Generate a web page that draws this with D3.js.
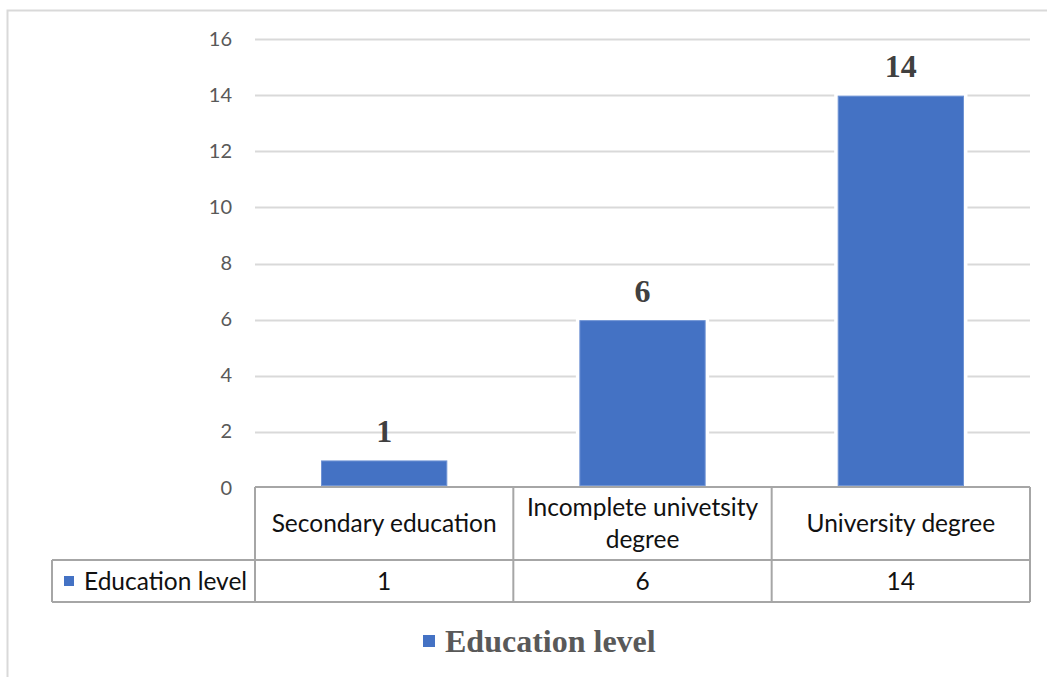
<!DOCTYPE html>
<html>
<head>
<meta charset="utf-8">
<script src="https://cdn.jsdelivr.net/npm/d3@7"></script>
<style>
  html, body { margin: 0; padding: 0; background: #fff; }
  svg { display: block; }
</style>
</head>
<body>
<svg id="chart" width="1047" height="677"></svg>
<script>
// Chart data
const categories = ["Secondary education", "Incomplete univetsity degree", "University degree"];
const categoryLines = [["Secondary education"], ["Incomplete univetsity", "degree"], ["University degree"]];
const seriesName = "Education level";
const values = [1, 6, 14];
const yTicks = [0, 2, 4, 6, 8, 10, 12, 14, 16];

const W = 1047, H = 677;
const svg = d3.select("#chart");
const sansFont = "Lato, 'Open Sans', sans-serif";
const serifFont = "'Liberation Serif', 'Times New Roman', serif";
const barColor = "#4472c4";

// Outer frame (top and left edges visible)
svg.append("path")
  .attr("d", `M7.5,${H} V10.5 H${W}`)
  .attr("fill", "none")
  .attr("stroke", "#d9d9d9")
  .attr("stroke-width", 2);

const plot = { left: 255, right: 1030, top: 40, bottom: 489, axisLine: 487 };

const x = d3.scaleBand()
  .domain(categories)
  .range([plot.left, plot.right])
  .paddingInner(0)
  .paddingOuter(0);

const y = d3.scaleLinear()
  .domain([0, 16])
  .range([plot.bottom, plot.top]);

// Gridlines
svg.append("g")
  .selectAll("line")
  .data(yTicks.filter(t => t > 0))
  .join("line")
  .attr("x1", plot.left)
  .attr("x2", plot.right)
  .attr("y1", d => Math.round(y(d)) - 0.5)
  .attr("y2", d => Math.round(y(d)) - 0.5)
  .attr("stroke", "#d9d9d9")
  .attr("stroke-width", 2);

// Y axis labels
const yAxis = d3.axisLeft(y).tickValues(yTicks).tickSize(0).tickPadding(0);
const yg = svg.append("g")
  .attr("transform", `translate(232,-2)`)
  .call(yAxis);
yg.select(".domain").remove();
yg.selectAll("text")
  .attr("font-family", sansFont)
  .attr("font-size", 20)
  .attr("fill", "#595959")
  .attr("dy", "0.35em");

// Bars
const barW = x.bandwidth() * 0.485;
const barX = d => x.bandwidth() / 2 - barW / 2;
const bars = svg.append("g")
  .selectAll("g")
  .data(values.map((v, i) => ({ cat: categories[i], v })))
  .join("g")
  .attr("transform", d => `translate(${x(d.cat)},0)`);

bars.append("rect")
  .attr("x", d => barX(d) - 4)
  .attr("width", barW + 8)
  .attr("y", d => y(d.v) - 4)
  .attr("height", d => plot.axisLine - y(d.v) + 3)
  .attr("fill", "#fff");

bars.append("rect")
  .attr("x", barX)
  .attr("width", barW)
  .attr("y", d => y(d.v))
  .attr("height", d => plot.axisLine - y(d.v) - 1.5)
  .attr("fill", barColor)
  .attr("stroke", "#6f93d4")
  .attr("stroke-width", 1);

// Value labels
bars.append("text")
  .attr("x", x.bandwidth() / 2)
  .attr("y", d => y(d.v) - 19)
  .attr("text-anchor", "middle")
  .attr("font-family", serifFont)
  .attr("font-weight", "bold")
  .attr("font-size", 32)
  .attr("fill", "#404040")
  .text(d => d.v);

// Data table
const table = { headTop: plot.axisLine, rowTop: 560, bottom: 602, keyLeft: 52 };
const tableLines = svg.append("g")
  .attr("stroke", "#a6a6a6")
  .attr("stroke-width", 2)
  .attr("fill", "none");

tableLines.append("line")
  .attr("x1", plot.left).attr("x2", plot.right)
  .attr("y1", table.headTop).attr("y2", table.headTop);
tableLines.append("line")
  .attr("x1", table.keyLeft).attr("x2", plot.right)
  .attr("y1", table.rowTop).attr("y2", table.rowTop);
tableLines.append("line")
  .attr("x1", table.keyLeft).attr("x2", plot.right)
  .attr("y1", table.bottom).attr("y2", table.bottom);
tableLines.append("line")
  .attr("x1", table.keyLeft).attr("x2", table.keyLeft)
  .attr("y1", table.rowTop).attr("y2", table.bottom);
tableLines.selectAll(".vline")
  .data([...categories.map(c => x(c)), plot.right])
  .join("line")
  .attr("class", "vline")
  .attr("x1", d => d).attr("x2", d => d)
  .attr("y1", table.headTop).attr("y2", table.bottom);

// Category header cells
const headMid = (table.headTop + table.rowTop) / 2;
const lineH = 32;
categories.forEach((c, i) => {
  const lines = categoryLines[i];
  const t = svg.append("text")
    .attr("text-anchor", "middle")
    .attr("font-family", sansFont)
    .attr("font-size", 24.5)
    .attr("fill", "#111");
  lines.forEach((ln, j) => {
    t.append("tspan")
      .attr("x", x(c) + x.bandwidth() / 2)
      .attr("y", headMid + (j - (lines.length - 1) / 2) * lineH)
      .attr("dy", "0.35em")
      .text(ln);
  });
});

// Value row cells
const rowMid = (table.rowTop + table.bottom) / 2;
svg.append("g")
  .selectAll("text")
  .data(values)
  .join("text")
  .attr("x", (d, i) => x(categories[i]) + x.bandwidth() / 2)
  .attr("y", rowMid)
  .attr("dy", "0.35em")
  .attr("text-anchor", "middle")
  .attr("font-family", sansFont)
  .attr("font-size", 24.5)
  .attr("fill", "#111")
  .text(d => d);

// Row key
svg.append("rect")
  .attr("x", 64).attr("y", rowMid - 5)
  .attr("width", 10).attr("height", 10)
  .attr("fill", barColor);
svg.append("text")
  .attr("x", 84).attr("y", rowMid)
  .attr("dy", "0.35em")
  .attr("font-family", sansFont)
  .attr("font-size", 24.5)
  .attr("fill", "#111")
  .text(seriesName);

// Legend
const legend = svg.append("g").attr("transform", "translate(423,641)");
legend.append("rect")
  .attr("x", 0).attr("y", -6)
  .attr("width", 12).attr("height", 12)
  .attr("fill", barColor);
legend.append("text")
  .attr("x", 22).attr("y", 11)
  .attr("font-family", serifFont)
  .attr("font-weight", "bold")
  .attr("font-size", 32)
  .attr("fill", "#595959")
  .text(seriesName);
</script>
</body>
</html>
